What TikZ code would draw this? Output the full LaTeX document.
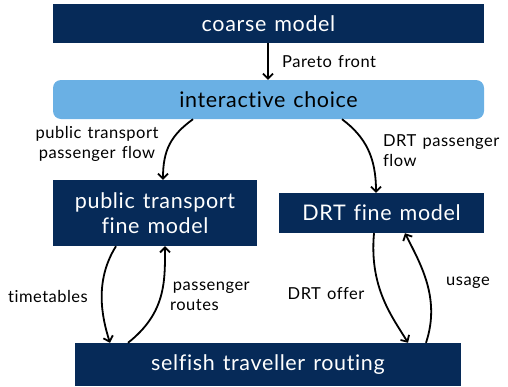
\documentclass[tikz,border=0pt]{standalone}
\usepackage{fontspec}
\setmainfont[Ligatures={NoCommon},LetterSpace=3,WordSpace=1.3]{Lato}
\usetikzlibrary{arrows.meta}
\definecolor{navy}{RGB}{6,42,88}
\definecolor{lblue}{RGB}{106,176,228}
\begin{document}
\begin{tikzpicture}[x=1pt,y=-1pt,
  dark/.style={fill=navy,text=white,inner sep=0pt,align=center,font=\fontsize{21.5}{25}\selectfont},
  light/.style={fill=lblue,text=black,rounded corners=8pt,inner sep=0pt,font=\fontsize{21.5}{25}\selectfont},
  flow/.style={line width=1.8pt,-{Straight Barb[length=5pt,width=10pt]}},
  lbl/.style={font=\fontsize{16.5}{20}\selectfont,align=left,inner sep=0pt}]
\useasboundingbox (0,0) rectangle (508,386);
\node[dark,minimum width=431pt,minimum height=39pt] (cm) at (268.5,23.5) {coarse model};
\node[light,minimum width=431pt,minimum height=39pt] (ic) at (268.5,99.5) {interactive choice};
\node[dark,minimum width=204pt,minimum height=66pt] (pt) at (155,213) {public transport\\fine model};
\node[dark,minimum width=205pt,minimum height=40pt] (drt) at (381.5,213) {DRT fine model};
\node[dark,minimum width=386pt,minimum height=43pt] (st) at (268,364.5) {selfish traveller routing};

\draw[flow] ([xshift=-0.5pt]cm.south) -- ([xshift=-0.5pt]ic.north);
\node[lbl,anchor=west] (lp) at (282,62) {Pareto front};

\draw[flow] ([xshift=-75.5pt]ic.south) .. controls +(-22,16) and +(0,-30) .. ([xshift=8pt]pt.north);
\node[lbl,align=center] (lpt) at (97,144) {public transport\\passenger flow};

\draw[flow] ([xshift=73.5pt]ic.south) .. controls +(24,18) and +(0,-35) .. ([xshift=-5.5pt]drt.north);
\node[lbl,anchor=north west] (ldrt) at (383,134) {DRT passenger\\flow};

\draw[flow] ([xshift=-39pt]pt.south) .. controls +(-22,35) and +(-8,-25) .. ([xshift=-158pt]st.north);
\node[lbl] (ltt) at (48,296) {timetables};

\draw[flow] ([xshift=-140pt]st.north) .. controls +(38,-30) and +(0,35) .. ([xshift=10pt]pt.south);
\node[lbl,anchor=north west] (lpr) at (170,282) {\,passenger\\routes};

\draw[flow] ([xshift=-7.5pt]drt.south) .. controls +(-5,55) and +(-15,-25) .. ([xshift=140pt]st.north);
\node[lbl] (lo) at (326,294) {DRT offer};

\draw[flow] ([xshift=158pt]st.north) .. controls +(15,-45) and +(15,30) .. ([xshift=23.5pt]drt.south);
\node[lbl] (lu) at (468,283) {usage};
\end{tikzpicture}
\end{document}
